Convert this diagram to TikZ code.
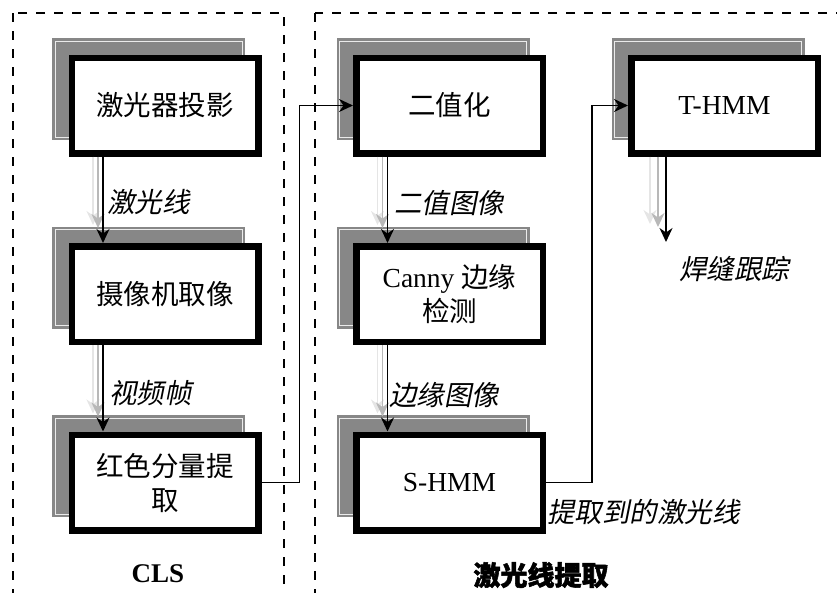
\documentclass[tikz,border=0pt]{standalone}
\usepackage{fontspec}
\setmainfont{Liberation Serif}
\newfontfamily\cjk{Noto Sans CJK SC}
\newfontfamily\cjksl[FakeSlant=0.2]{Noto Sans CJK SC}
\newfontfamily\cjkbf[FakeBold=2]{Noto Sans CJK SC}
\usetikzlibrary{arrows.meta,backgrounds}

\tikzset{
  stagebox/.style={draw=black, line width=6.5pt, fill=white,
    minimum width=186.5pt, minimum height=95.5pt, inner sep=0pt,
    align=center, font=\fontsize{27.5}{34}\selectfont},
  tip/.style={-{Stealth[length=14pt,width=13pt,inset=4.5pt]}},
  flow/.style={tip, draw=black, line width=1.8pt},
  ghostnear/.style={tip, draw=black!28, line width=1.8pt},
  ghostfar/.style={tip, draw=black!10, line width=1.8pt},
  link/.style={tip, draw=black, line width=1.7pt},
  shadowfill/.style={fill=black!47},
  shadowedge/.style={draw=black!8, line width=0.9pt},
  frame/.style={draw=black, line width=2.3pt, dash pattern=on 9pt off 9pt},
  edgelabel/.style={font=\fontsize{27.5}{34}\selectfont\cjksl, inner sep=0pt},
  grouptitle/.style={font=\fontsize{27}{34}\selectfont\bfseries, inner sep=0pt}
}

\begin{document}
\begin{tikzpicture}[x=1pt,y=-1pt]
\useasboundingbox (0,0) rectangle (837,592);
\clip (0,0) rectangle (837,592);

% dashed group frames
\draw[frame] (13,13) rectangle (284,640);
\draw[frame] (315,13) rectangle (880,640);

% processing stages
\node[stagebox] (laser)  at (165,105.5) {\cjk 激光器投影};
\node[stagebox] (camera) at (165,294)   {\cjk 摄像机取像};
\node[stagebox] (red)    at (165,482.5) {\cjk 红色分量提\\\cjk 取};
\node[stagebox] (bin)    at (449.5,105.5) {\cjk 二值化};
\node[stagebox] (canny)  at (449.5,294)   {Canny \cjk 边缘\\\cjk 检测};
\node[stagebox] (shmm)   at (449.5,482.5) {S-HMM};
\node[stagebox] (thmm)   at (724.5,105.5) {T-HMM};

% cast shadows behind the stages
\begin{pgfonlayer}{background}
\foreach \n in {laser,camera,red,bin,canny,shmm,thmm}{
  \fill[shadowfill] ([shift={(-16.5,-16.5)}]\n.north west) rectangle ([shift={(-16.5,-16.5)}]\n.south east);
  \draw[shadowedge] ([shift={(-13.5,-13.5)}]\n.north west) rectangle ([shift={(-19.5,-19.5)}]\n.south east);
}
\end{pgfonlayer}

% vertical flows with faded trails
\foreach \a/\b in {laser/camera,camera/red,bin/canny,canny/shmm}{
  \draw[ghostfar]  ([xshift=-72pt]\a.south) -- ([shift={(-72,-18)}]\b.north);
  \draw[ghostnear] ([xshift=-67pt]\a.south) -- ([shift={(-67,-15)}]\b.north);
  \draw[flow]      ([xshift=-62pt]\a.south) -- ([xshift=-62pt]\b.north);
}

\coordinate (track) at (666,242);
\draw[ghostfar]  ([xshift=-74.5pt]thmm.south) -- ([shift={(-16,-18)}]track);
\draw[ghostnear] ([xshift=-66.5pt]thmm.south) -- ([shift={(-8,-15)}]track);
\draw[flow]      ([xshift=-58.5pt]thmm.south) -- (track);

% links between the two groups
\draw[link] (red.east) -- ++(38,0) |- (bin.west);
\draw[link] (shmm.east) -- ++(46,0) |- (thmm.west);

% flow labels
\node[edgelabel, anchor=west] (l1) at (107,202) {激光线};
\node[edgelabel, anchor=west] (l2) at (109,393) {视频帧};
\node[edgelabel, anchor=west] (l3) at (394,203) {二值图像};
\node[edgelabel, anchor=west] (l4) at (389,395) {边缘图像};
\node[edgelabel] (l5) at (734,269) {焊缝跟踪};
\node[edgelabel, anchor=west] (l6) at (547,512) {提取到的激光线};

% group titles
\node[grouptitle] (t1) at (158,574) {CLS};
\node[grouptitle] (t2) at (541,575) {\cjkbf 激光线提取};
\end{tikzpicture}
\end{document}
